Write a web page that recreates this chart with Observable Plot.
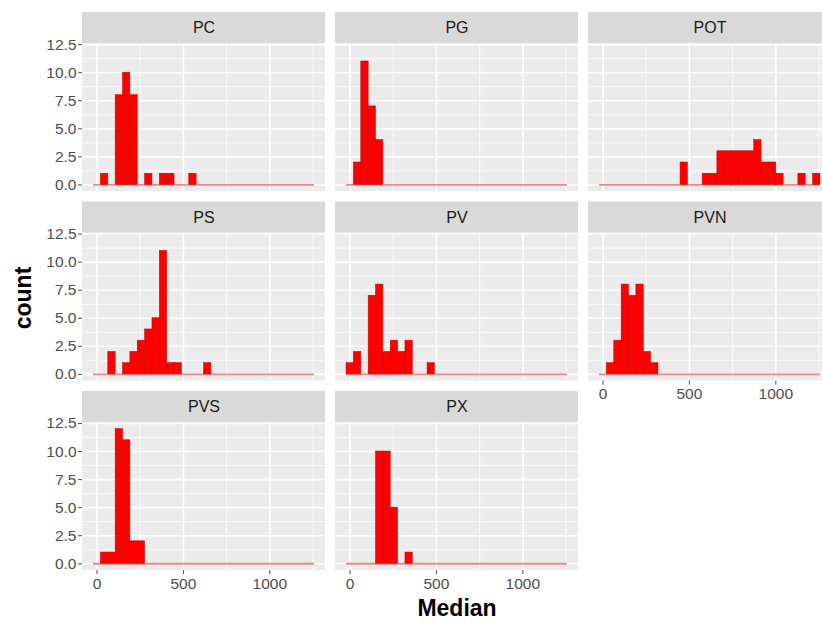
<!DOCTYPE html>
<html><head><meta charset="utf-8">
<script src="https://cdn.jsdelivr.net/npm/d3@7"></script>
<script src="https://cdn.jsdelivr.net/npm/@observablehq/plot@0.6"></script>
<style>
html,body{margin:0;padding:0;background:#fff;overflow:hidden;width:822px;height:624px}
#chart{position:relative;width:822px;height:624px;overflow:hidden}
#chart svg{max-width:none !important}
</style></head><body><div id="chart"></div>
<script>
// Facet names (ggplot facet_wrap order)
const facetNames = ["PC", "PG", "POT", "PS", "PV", "PVN", "PVS", "PX"];
// Histogram binning (30 bins)
const binStart = -20;
const binWidth = 42.6;
// Counts per bin for each facet
const countsPC  = [0,1,0,8,10,8,0,1,0,1,1,0,0,1,0,0,0,0,0,0,0,0,0,0,0,0,0,0,0,0];
const countsPG  = [0,2,11,7,4,0,0,0,0,0,0,0,0,0,0,0,0,0,0,0,0,0,0,0,0,0,0,0,0,0];
const countsPOT = [0,0,0,0,0,0,0,0,0,0,0,2,0,0,1,1,3,3,3,3,3,4,2,2,1,0,0,1,0,1];
const countsPS  = [0,0,2,0,1,2,3,4,5,11,1,1,0,0,0,1,0,0,0,0,0,0,0,0,0,0,0,0,0,0];
const countsPV  = [1,2,0,7,8,2,3,2,3,0,0,1,0,0,0,0,0,0,0,0,0,0,0,0,0,0,0,0,0,0];
const countsPVN = [0,1,3,8,7,8,2,1,0,0,0,0,0,0,0,0,0,0,0,0,0,0,0,0,0,0,0,0,0,0];
const countsPVS = [0,1,1,12,11,2,2,0,0,0,0,0,0,0,0,0,0,0,0,0,0,0,0,0,0,0,0,0,0,0];
const countsPX  = [0,0,0,0,10,10,5,0,1,0,0,0,0,0,0,0,0,0,0,0,0,0,0,0,0,0,0,0,0,0];
// Axis ticks
const xTicks = [0, 500, 1000];
const xMinor = [250, 750, 1250];
const yTicks = [0, 2.5, 5, 7.5, 10, 12.5];
const yMinor = [1.25, 3.75, 6.25, 8.75, 11.25];

const countsByFacet = {PC: countsPC, PG: countsPG, POT: countsPOT, PS: countsPS,
  PV: countsPV, PVN: countsPVN, PVS: countsPVS, PX: countsPX};

const panels = facetNames.map((name, i) => ({name, col: i % 3, row: Math.floor(i / 3)}));
const bins = panels.flatMap(p => countsByFacet[p.name].map((c, k) => ({
  ...p, x1: binStart + k * binWidth, x2: binStart + (k + 1) * binWidth, count: c
})));
const binEnd = binStart + 30 * binWidth;

const xDomain = [-84, 1322];
const panelTopY = 12.6;
const yDomain = [-0.6, 15.365];

const cross = (vals) => panels.flatMap(p => vals.map(v => ({...p, v})));
const F = {fx: "col", fy: "row"};
const FONT = "'Liberation Sans', Arial, sans-serif";

const chart = Plot.plot({
  width: 835, height: 624,
  marginLeft: 82, marginRight: 4, marginTop: 12, marginBottom: 54,
  style: {fontFamily: FONT, background: "transparent", overflow: "visible", maxWidth: "none"},
  x: {domain: xDomain, axis: null},
  y: {domain: yDomain, axis: null},
  fx: {domain: [0, 1, 2], paddingInner: 0.0395, paddingOuter: 0, round: false, axis: null},
  fy: {domain: [0, 1, 2], paddingInner: 0.054, paddingOuter: 0, round: false, axis: null},
  marks: [
    Plot.rect(panels, {...F, x1: xDomain[0], x2: xDomain[1], y1: yDomain[0], y2: panelTopY, fill: "#ebebeb"}),
    Plot.ruleX(cross(xMinor), {...F, x: "v", y1: yDomain[0], y2: panelTopY, stroke: "white", strokeWidth: 0.8}),
    Plot.ruleY(cross(yMinor), {...F, y: "v", x1: xDomain[0], x2: xDomain[1], stroke: "white", strokeWidth: 0.8}),
    Plot.ruleX(cross(xTicks), {...F, x: "v", y1: yDomain[0], y2: panelTopY, stroke: "white", strokeWidth: 1.6}),
    Plot.ruleY(cross(yTicks), {...F, y: "v", x1: xDomain[0], x2: xDomain[1], stroke: "white", strokeWidth: 1.6}),
    Plot.rect(panels, {...F, x1: xDomain[0], x2: xDomain[1], y1: panelTopY, y2: yDomain[1], fill: "#d9d9d9"}),
    Plot.text(panels, {...F, x: (xDomain[0] + xDomain[1]) / 2, y: (panelTopY + yDomain[1]) / 2, text: "name",
      fontSize: 16, fill: "#1a1a1a"}),
    Plot.ruleY(panels, {...F, y: 0, x1: binStart, x2: binEnd, stroke: "#e8898c", strokeWidth: 1.8}),
    Plot.rect(bins.filter(d => d.count > 0), {...F, x1: "x1", x2: "x2", y1: 0, y2: "count",
      fill: "red", stroke: "#c40000", strokeWidth: 0.5}),
    Plot.axisY(yTicks, {anchor: "left", tickFormat: d3.format(".1f"), tickSize: 4, tickPadding: 2,
      fontSize: 15.5, color: "#4d4d4d", label: null}),
    Plot.axisX(xTicks, {anchor: "bottom", facetAnchor: "bottom-empty", tickFormat: d3.format("d"),
      tickSize: 4, tickPadding: 3, fontSize: 15.5, color: "#4d4d4d", label: null})
  ]
});

const svg = d3.select(chart);
svg.append("text")
  .attr("transform", "translate(31,298) rotate(-90)")
  .attr("text-anchor", "middle")
  .attr("font-family", FONT)
  .attr("font-weight", "bold").attr("font-size", 23).attr("fill", "#000")
  .text("count");
svg.append("text")
  .attr("x", 457).attr("y", 616)
  .attr("text-anchor", "middle")
  .attr("font-family", FONT)
  .attr("font-weight", "bold").attr("font-size", 23).attr("fill", "#000")
  .text("Median");

document.getElementById("chart").appendChild(chart);
</script></body></html>
